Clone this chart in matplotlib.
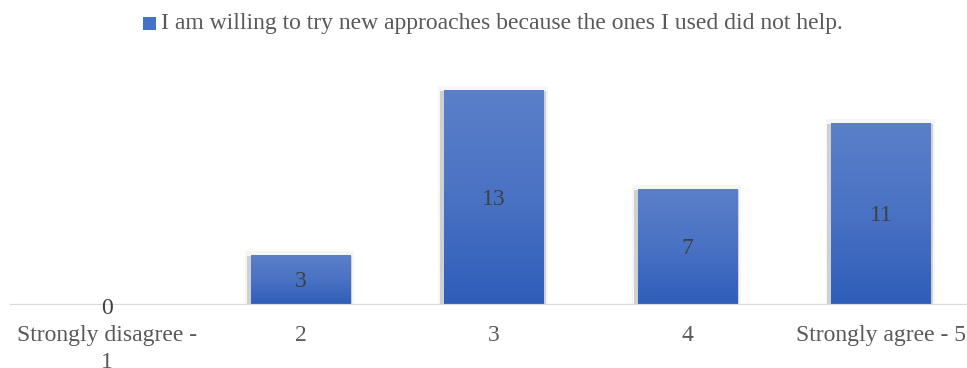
import numpy as np
import matplotlib.pyplot as plt
from matplotlib.patches import Rectangle
from matplotlib.colors import LinearSegmentedColormap

plt.rcParams['font.family'] = ['Liberation Serif', 'DejaVu Serif']

categories = ['Strongly disagree -\n1', '2', '3', '4', 'Strongly agree - 5']
counts = [0, 3, 13, 7, 11]
series_name = 'I am willing to try new approaches because the ones I used did not help.'

W, H = 967, 368
fig = plt.figure(figsize=(W / 100, H / 100), dpi=100)
ax = fig.add_axes([10 / W, 63 / H, 968 / W, 231 / H])

x = np.arange(len(categories))
bar_w = 0.515

# blue vertical gradient, lighter at the top
grad = LinearSegmentedColormap.from_list('bluegrad', ['#2e5db8', '#4a72c4', '#5b80c9'])
ramp = np.linspace(0, 1, 256).reshape(-1, 1)

for xi, v in zip(x, counts):
    if v <= 0:
        continue
    # soft halo + gray shadow around the bar
    ax.add_patch(Rectangle((xi - bar_w / 2 - 0.03, -0.1), bar_w + 0.05, v + 0.35,
                           facecolor='#000000', alpha=0.035, edgecolor='none', zorder=1))
    ax.add_patch(Rectangle((xi - bar_w / 2 - 0.02, -0.2), bar_w + 0.03, v + 0.15,
                           facecolor='#bdbdbd', alpha=0.65, edgecolor='none', zorder=1.5))
    ax.imshow(ramp, cmap=grad, origin='lower', aspect='auto',
              extent=(xi - bar_w / 2, xi + bar_w / 2, 0, v), zorder=2)

for xi, v in zip(x, counts):
    ax.text(xi, v / 2 - 0.1 if v > 0 else -0.2, str(v), ha='center', va='center',
            fontsize=17, color='#404040', zorder=4)

ax.set_xlim(-0.5, len(categories) - 0.5)
ax.set_ylim(0, 14)
ax.axhline(0, color='#d9d9d9', lw=1.6, zorder=3)

for s in ax.spines.values():
    s.set_visible(False)
ax.set_yticks([])
ax.set_xticks(x)
ax.set_xticklabels(categories, fontsize=17, color='#595959', linespacing=1.38)
ax.tick_params(axis='x', length=0, pad=14.5)

# legend line above the plot
fig.text(161 / W, 1 - 24 / H, series_name, fontsize=17, color='#595959',
         ha='left', va='center')
fig.patches.append(Rectangle((143 / W, 1 - 30 / H), 13 / W, 13 / H, transform=fig.transFigure,
                             facecolor='#4472c4', edgecolor='none', figure=fig))

fig.savefig('out.png', dpi=100)
